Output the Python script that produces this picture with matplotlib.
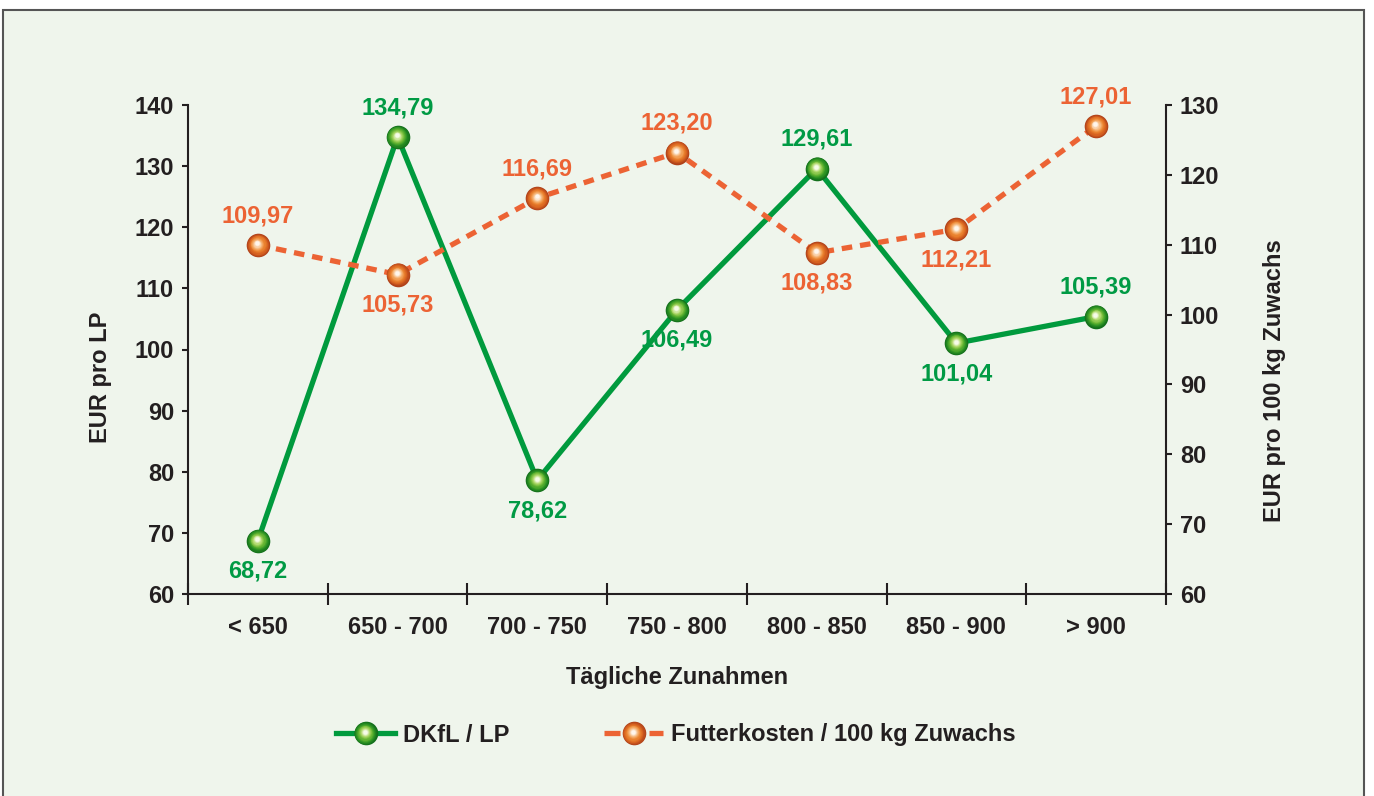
import matplotlib
matplotlib.use("Agg")
import matplotlib.pyplot as plt
from matplotlib.patches import Rectangle
from matplotlib.lines import Line2D
from matplotlib.legend_handler import HandlerBase
import matplotlib.transforms as mtransforms
from matplotlib.colors import to_rgb
import numpy as np

plt.rcParams['font.family'] = ['Liberation Sans', 'DejaVu Sans']
plt.rcParams['font.weight'] = 'bold'

categories = ['< 650', '650 - 700', '700 - 750', '750 - 800', '800 - 850', '850 - 900', '> 900']
dkfl = [68.72, 134.79, 78.62, 106.49, 129.61, 101.04, 105.39]
futter = [109.97, 105.73, 116.69, 123.20, 108.83, 112.21, 127.01]
dkfl_above = [False, True, False, False, True, False, True]
futter_above = [True, False, True, True, False, False, True]

GREEN = '#009a3d'
GREEN_TXT = '#009a44'
ORANGE = '#ec6334'
TXT = '#231f20'
BG = '#eff5ec'
DASH = (0, (2.0, 1.5))

GREEN_STOPS = ['#13701c', '#2f9624', '#6cb834', '#b2d96c', '#f6fbe8']
ORANGE_STOPS = ['#b0421a', '#d96420', '#ec8632', '#f6b97e', '#fff6ec']

fig = plt.figure(figsize=(13.74, 7.96), dpi=100)
fig.patch.set_facecolor('white')
fig.patches.append(Rectangle((3/1374, -0.01), (1364-3)/1374, (786)/796 + 0.01,
                             transform=fig.transFigure, facecolor=BG,
                             edgecolor='#555555', linewidth=1.5, zorder=-10))

ax = fig.add_axes([188/1374, (796-594)/796, (1166-188)/1374, (594-105)/796])
ax.set_facecolor('none')
ax2 = ax.twinx()
ax2.set_facecolor('none')

x = np.arange(len(categories))


def grad_colors(stops, n):
    cols = np.array([to_rgb(c) for c in stops])
    t = np.linspace(0, 1, n)
    pos = np.linspace(0, 1, len(stops))
    return [tuple(np.interp(ti, pos, cols[:, k]) for k in range(3)) for ti in t]


N_LAYERS = 14
MS = 17


def sphere(axis, xs, ys, stops, size=MS):
    cols = grad_colors(stops, N_LAYERS)
    for i, col in enumerate(cols):
        frac = 1 - i / N_LAYERS * 0.88
        shift = i / N_LAYERS * 1.2
        tr = mtransforms.offset_copy(axis.transData, fig=fig, x=-shift * 0.5, y=shift,
                                     units='points')
        axis.plot(xs, ys, 'o', ms=size * frac, mfc=col, mec='none', zorder=5 + i * 0.01,
                  clip_on=False, transform=tr)


# Green line (left axis)
ax.plot(x, dkfl, color=GREEN, lw=3.8, zorder=4, clip_on=False)
sphere(ax, x, dkfl, GREEN_STOPS)

# Orange line (right axis)
ax2.plot(x, futter, color=ORANGE, lw=3.8, ls=DASH, zorder=4, clip_on=False)
sphere(ax2, x, futter, ORANGE_STOPS)

for xi, v, up in zip(x, dkfl, dkfl_above):
    ax.annotate(f'{v:.2f}'.replace('.', ','), (xi, v), xytext=(0, 21 if up else -22),
                textcoords='offset points', ha='center', va='center',
                color=GREEN_TXT, fontsize=17, fontweight='bold', zorder=7)
for xi, v, up in zip(x, futter, futter_above):
    ax2.annotate(f'{v:.2f}'.replace('.', ','), (xi, v), xytext=(0, 21 if up else -22),
                 textcoords='offset points', ha='center', va='center',
                 color=ORANGE, fontsize=17, fontweight='bold', zorder=7)

ax.set_xlim(-0.5, 6.5)
ax.set_ylim(60, 140)
ax2.set_ylim(60, 130)
ax.set_yticks(np.arange(60, 141, 10))
ax2.set_yticks(np.arange(60, 131, 10))

ax.set_xticks(np.arange(-0.5, 7, 1))
ax.set_xticklabels([])
ax.set_xticks(x, minor=True)
ax.set_xticklabels(categories, minor=True)
ax.tick_params(axis='x', which='major', direction='inout', length=16, width=1.5, color=TXT)
ax.tick_params(axis='x', which='minor', length=0, pad=16, labelsize=17, labelcolor=TXT)
ax.tick_params(axis='y', direction='out', length=4, width=1.5, color=TXT, labelsize=17,
               labelcolor=TXT, pad=6)
ax2.tick_params(axis='y', direction='out', length=4, width=1.5, color=TXT, labelsize=17,
                labelcolor=TXT, pad=6)
for lab in ax.get_xticklabels(minor=True) + ax.get_yticklabels() + ax2.get_yticklabels():
    lab.set_fontweight('bold')

for s in ['top', 'right']:
    ax.spines[s].set_visible(False)
for s in ['top', 'left', 'bottom']:
    ax2.spines[s].set_visible(False)
for a in (ax, ax2):
    for s in a.spines.values():
        s.set_linewidth(1.5)
        s.set_color(TXT)

ax.set_ylabel('EUR pro LP', fontsize=17, fontweight='bold', color=TXT)
ax2.set_ylabel('EUR pro 100 kg Zuwachs', fontsize=17, fontweight='bold', color=TXT,
               rotation=90)
ax.yaxis.set_label_coords(-(188 - 112) / 978, (594 - 377) / 489)
ax2.yaxis.set_label_coords(1 + (1263 - 1166) / 978, (594 - 381) / 489)
ax.set_xlabel('Tägliche Zunahmen', fontsize=17, fontweight='bold', color=TXT)
ax.xaxis.set_label_coords(0.5, -(666 - 594) / 489)


class SphereHandler(HandlerBase):
    def __init__(self, color, ls, stops):
        super().__init__()
        self.color, self.ls, self.stops = color, ls, stops

    def create_artists(self, legend, orig_handle, xdescent, ydescent, width, height,
                       fontsize, trans):
        y = height / 2 - ydescent
        cx = width / 2 - xdescent
        arts = []
        if self.ls == '-':
            arts.append(Line2D([-xdescent, width - xdescent], [y, y], color=self.color,
                               lw=3.8, transform=trans))
        else:
            arts.append(Line2D([-xdescent, cx - 10], [y, y], color=self.color,
                               lw=3.8, transform=trans, solid_capstyle='butt'))
            arts.append(Line2D([cx + 11, width - xdescent], [y, y], color=self.color,
                               lw=3.8, transform=trans, solid_capstyle='butt'))
        cols = grad_colors(self.stops, N_LAYERS)
        for i, col in enumerate(cols):
            frac = 1 - i / N_LAYERS * 0.88
            shift = i / N_LAYERS * 1.2
            arts.append(Line2D([cx - shift * 0.5], [y + shift], marker='o',
                               ms=MS * frac, mfc=col, mec='none', ls='none',
                               transform=trans))
        return arts


h1 = Line2D([0], [0])
h2 = Line2D([0], [0])
fig.legend([h1, h2], ['DKfL / LP', 'Futterkosten / 100 kg Zuwachs'],
           loc='center', bbox_to_anchor=(676/1374, 1 - 735/796), ncol=2, frameon=False,
           prop={'weight': 'bold', 'size': 17}, handlelength=2.5, columnspacing=4.0,
           handletextpad=0.35, labelcolor=TXT,
           handler_map={h1: SphereHandler(GREEN, '-', GREEN_STOPS),
                        h2: SphereHandler(ORANGE, '--', ORANGE_STOPS)})

fig.savefig('out.png', dpi=100, facecolor=fig.get_facecolor())
